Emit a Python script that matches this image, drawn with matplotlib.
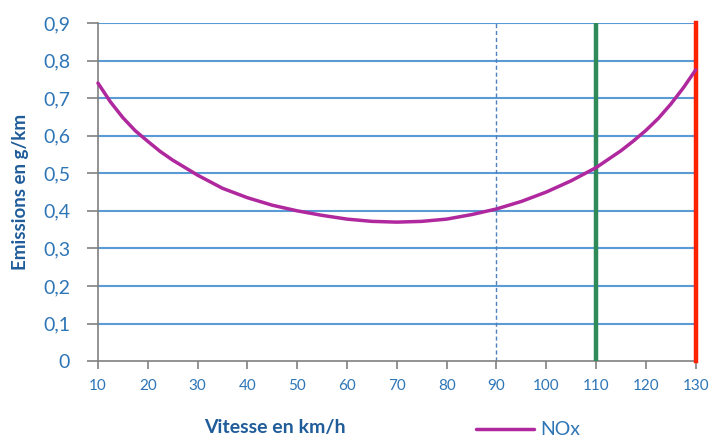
import numpy as np
import matplotlib.pyplot as plt
from matplotlib.ticker import FuncFormatter

##### Data #####
speed = [10, 12.5, 15, 17.5, 20, 22.5, 25, 30, 35, 40, 45, 50, 55, 60, 65, 70,
         75, 80, 85, 90, 95, 100, 105, 110, 115, 117.5, 120, 122.5, 125, 127.5, 130]
nox = [0.74, 0.69, 0.648, 0.613, 0.585, 0.558, 0.535, 0.495, 0.46, 0.435, 0.415, 0.40, 0.388,
       0.378, 0.372, 0.37, 0.372, 0.378, 0.39, 0.405, 0.425, 0.45, 0.48, 0.515, 0.56, 0.586,
       0.614, 0.646, 0.684, 0.727, 0.775]
x_ticks = [10, 20, 30, 40, 50, 60, 70, 80, 90, 100, 110, 120, 130]
y_ticks = [0, 0.1, 0.2, 0.3, 0.4, 0.5, 0.6, 0.7, 0.8, 0.9]
limit_dotted = 90
limit_green = 110
limit_red = 130

plt.rcParams['font.family'] = ['Lato', 'DejaVu Sans']
tick_blue = '#2E75B6'
label_blue = '#1F5C99'

fig = plt.figure(figsize=(7.15, 4.41), dpi=100)
ax = fig.add_axes([0.137, 0.181, 0.836, 0.767])

for yv in y_ticks[1:]:
    ax.axhline(yv, color='#5B9BD5', lw=1.5, zorder=1)

ax.axvline(limit_dotted, color='#4F81BD', lw=1.0, ls=(0, (3, 2)), zorder=2)
ax.axvline(limit_green, color='#2E8B57', lw=3.2, zorder=3)
ax.axvline(limit_red, color='#FF2200', lw=3.2, zorder=3, clip_on=False)

ax.plot(speed, nox, color='#B0289E', lw=2.5, label='NOx', zorder=4,
        solid_capstyle='round', solid_joinstyle='round', clip_on=False)

ax.set_xlim(10, 130)
ax.set_ylim(0, 0.9)
ax.set_xticks(x_ticks)
ax.set_yticks(y_ticks)
ax.yaxis.set_major_formatter(FuncFormatter(lambda v, p: '0' if v == 0 else f"{v:.1f}".replace('.', ',')))
ax.tick_params(axis='y', labelsize=14, labelcolor=tick_blue, color='#808080', length=8, width=1.2, pad=12)
ax.tick_params(axis='x', labelsize=11, labelcolor=tick_blue, color='#808080', length=6, width=1.2, pad=7)

for s in ['top', 'right']:
    ax.spines[s].set_visible(False)
for s in ['left', 'bottom']:
    ax.spines[s].set_color('#808080')
    ax.spines[s].set_linewidth(1.2)

ax.set_xlabel('Vitesse en km/h', fontsize=14, fontweight='bold', color=label_blue)
ax.xaxis.set_label_coords(0.296, -0.17)
ax.set_ylabel('Emissions en g/km', fontsize=13.5, fontweight='bold', color=label_blue)
ax.yaxis.set_label_coords(-0.115, 0.5)

leg = fig.legend(loc='center left', bbox_to_anchor=(0.655, 0.025), frameon=False,
                 fontsize=14, handlelength=3.0, handletextpad=0.3, borderaxespad=0)
for t in leg.get_texts():
    t.set_color(tick_blue)

fig.savefig('out.png', dpi=100)
